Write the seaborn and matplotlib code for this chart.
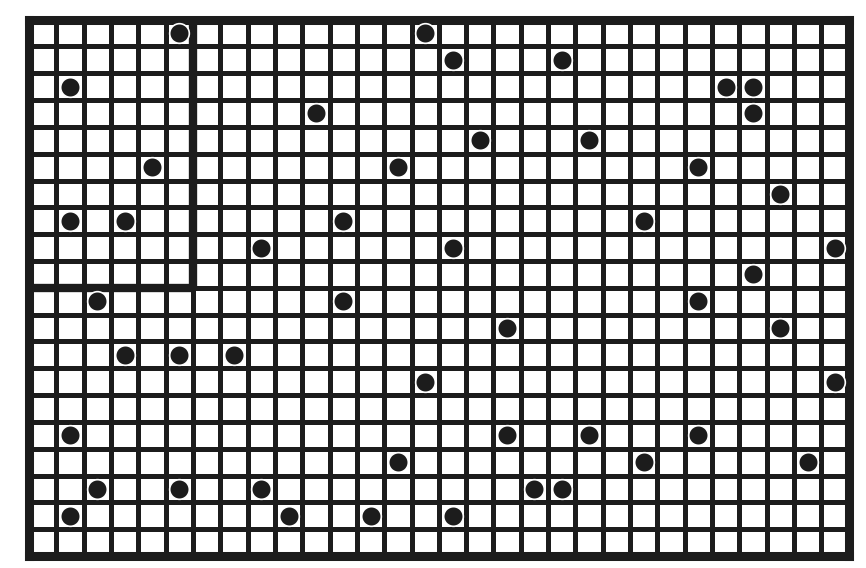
import pandas as pd
import matplotlib.pyplot as plt
import seaborn as sns

# Grid size (columns x rows)
n_cols = 30
n_rows = 20

# Dot positions: cell column (from left) and cell row (from top)
dot_col = [5, 1, 14, 15, 19, 25, 26, 26, 10, 16, 20, 4, 13, 24, 27, 1, 3, 11, 22,
           29, 8, 15, 26, 2, 11, 24, 17, 27, 3, 5, 7, 14, 29, 1, 17, 20, 24, 13,
           22, 28, 2, 5, 8, 18, 19, 1, 9, 12, 15]
dot_row = [0, 2, 0, 1, 1, 2, 2, 3, 3, 4, 4, 5, 5, 5, 6, 7, 7, 7, 7,
           8, 8, 8, 9, 10, 10, 10, 11, 11, 12, 12, 12, 13, 13, 15, 15, 15, 15, 16,
           16, 16, 17, 17, 17, 17, 17, 18, 18, 18, 18]

# Outlined block in the upper-left corner (columns, rows)
block_cols = 6
block_rows = 10

df = pd.DataFrame({'col': dot_col, 'row': dot_row})
df['x'] = df['col'] + 0.5
df['y'] = df['row'] + 0.5

ink = '#1c1c1c'

sns.set_style('white')
fig = plt.figure(figsize=(8.66, 5.68), dpi=100)
ax = fig.add_axes([0.0335, 0.021, 0.9465, 0.9445])

# Grid lines
for i in range(1, n_cols):
    ax.axvline(i, color=ink, lw=3.6, zorder=1)
for j in range(1, n_rows):
    ax.axhline(j, color=ink, lw=3.6, zorder=1)

# Heavier lines around the corner block
ax.plot([block_cols, block_cols], [0, block_rows], color=ink, lw=6, zorder=2,
        solid_capstyle='butt')
ax.plot([0, block_cols], [block_rows, block_rows], color=ink, lw=6, zorder=2,
        solid_capstyle='butt')

sns.scatterplot(data=df, x='x', y='y', ax=ax, s=200, color=ink,
                edgecolor='white', linewidth=1.2, zorder=3, legend=False)

ax.set_xlim(0, n_cols)
ax.set_ylim(n_rows, 0)
ax.set_xticks([])
ax.set_yticks([])
ax.set_xlabel('')
ax.set_ylabel('')
for side in ax.spines.values():
    side.set_visible(True)
    side.set_color(ink)
    side.set_linewidth(6.5)

fig.savefig('out.png', dpi=100, facecolor='white')
